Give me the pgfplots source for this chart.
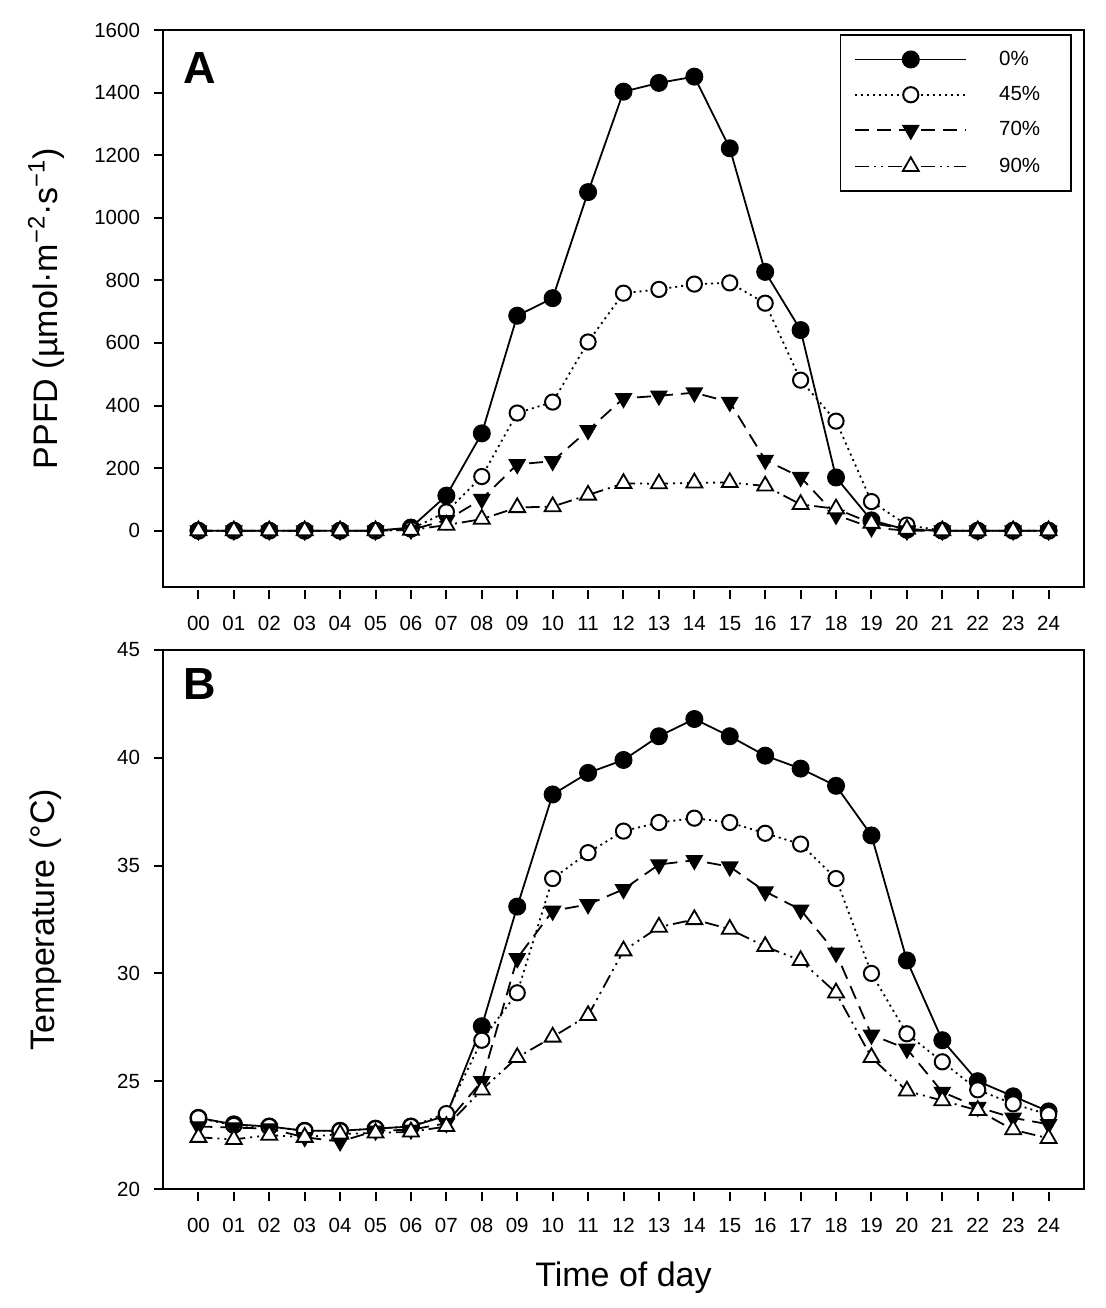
\documentclass[border=0pt]{standalone}
\usepackage{fontspec}
\setmainfont{Liberation Sans}
\usepackage{pgfplots}
\usepackage{pgfplotstable}
\pgfplotsset{compat=1.18}

\pgfplotstableread{
h p0 p45 p70 p90
0 0 0 0 0
1 0 0 0 0
2 0 0 0 0
3 0 0 0 0
4 0 0 0 0
5 0 0 0 0
6 10 5 3 2
7 112 60 33 18
8 311 173 101 37
9 687 376 212 74
10 743 411 222 77
11 1082 603 321 114
12 1403 759 423 151
13 1431 771 431 150
14 1451 788 441 153
15 1222 792 411 154
16 827 727 226 143
17 641 481 171 84
18 170 350 50 70
19 33 93 10 24
20 3 18 0 5
21 0 0 0 0
22 0 0 0 0
23 0 0 0 0
24 0 0 0 0
}\ppfd

\pgfplotstableread{
h t0 t45 t70 t90
0 23.3 23.3 22.9 22.4
1 23.0 22.95 22.85 22.3
2 22.9 22.9 22.8 22.5
3 22.7 22.7 22.4 22.4
4 22.7 22.7 22.2 22.55
5 22.8 22.8 22.7 22.6
6 22.9 22.9 22.75 22.65
7 23.4 23.5 23.05 22.9
8 27.55 26.9 25.0 24.6
9 33.1 29.1 30.7 26.1
10 38.3 34.4 32.9 27.05
11 39.3 35.6 33.2 28.05
12 39.9 36.6 33.9 31.05
13 41.0 37.0 35.05 32.15
14 41.8 37.2 35.25 32.5
15 41.0 37.0 34.95 32.05
16 40.1 36.5 33.8 31.25
17 39.5 36.0 32.95 30.6
18 38.7 34.4 30.95 29.1
19 36.4 30.0 27.15 26.1
20 30.6 27.2 26.5 24.55
21 26.9 25.9 24.5 24.1
22 25.0 24.6 23.8 23.65
23 24.3 23.95 23.3 22.75
24 23.6 23.45 23.0 22.35
}\temp

\pgfplotsset{
  common/.style={
    scale only axis, width=460.5pt,
    xmin=-1, xmax=25, xtick={0,...,24},
    xticklabels={00,01,02,03,04,05,06,07,08,09,10,11,12,13,14,15,16,17,18,19,20,21,22,23,24},
    tick align=outside, xtick pos=bottom, ytick pos=left,
    major tick length=4.5pt,
    every tick/.style={black, line width=1pt},
    xtick style={yshift=-1.5pt},
    axis line style={line width=1.2pt},
    ticklabel style={font=\fontsize{10.25}{12}\selectfont},
    xticklabel style={yshift=-6.5pt},
    yticklabel style={xshift=-3.5pt},
    /pgf/number format/assume math mode=true,
    /pgf/number format/1000 sep={},
    ylabel style={font=\fontsize{17}{20}\selectfont, at={(axis description cs:-0.127,0.5)}, anchor=center},
    xlabel style={font=\fontsize{17}{20}\selectfont, at={(axis description cs:0.5,-0.1651)}, anchor=center},
  },
  s0/.style={black, solid, line width=0.9pt, mark=*, mark size=4.2pt, mark options={fill=black, solid, line width=0.6pt}},
  s45/.style={black, dash pattern=on 1pt off 2pt, line width=0.9pt, mark=*, mark size=3.8pt, mark options={fill=white, solid, line width=1pt}},
  s70/.style={black, dash pattern=on 7pt off 4pt, line width=0.9pt, mark=triangle*, mark size=4.6pt, mark options={rotate=180, fill=black, solid, line width=0.6pt}},
  s90/.style={black, dash pattern=on 7pt off 2.5pt on 1pt off 2.5pt on 1pt off 2.5pt, line width=0.9pt, mark=triangle*, mark size=4.6pt, mark options={fill=white, solid, line width=0.9pt}},
}

\begin{document}
\begin{tikzpicture}
\useasboundingbox (-81.5pt,15pt) rectangle (471pt,-639pt);
\begin{axis}[common, at={(0pt,0pt)}, anchor=north west, height=278.5pt,
  ymin=-180, ymax=1600, ytick={0,200,...,1600},
  ylabel={PPFD (µmol·m\textsuperscript{−2}·s\textsuperscript{−1})},
  legend cell align=left,
  legend style={at={(1,1)}, anchor=north east, xshift=-6pt, yshift=-2pt,
    draw=black, line width=0.8pt, font=\fontsize{10.25}{12}\selectfont,
    inner xsep=7pt, inner ysep=8pt, row sep=9pt, nodes={inner sep=0pt}},
  legend image code/.code={\draw[mark repeat=2,mark phase=2] plot coordinates {(0pt,0pt) (27.75pt,0pt) (55.5pt,0pt)};},
]
\addplot[s0] table[x=h,y=p0] {\ppfd};
\addlegendentry{\hspace{16pt}\makebox[29pt][l]{0\%}}
\addplot[s45] table[x=h,y=p45] {\ppfd};
\addlegendentry{\hspace{16pt}\makebox[29pt][l]{45\%}}
\addplot[s70] table[x=h,y=p70] {\ppfd};
\addlegendentry{\hspace{16pt}\makebox[29pt][l]{70\%}}
\addplot[s90] table[x=h,y=p90] {\ppfd};
\addlegendentry{\hspace{16pt}\makebox[29pt][l]{90\%}}
\node[anchor=north west, inner sep=0pt, font=\bfseries\fontsize{22.5}{22.5}\selectfont] at (axis description cs:0.0217,0.9605) {A};
\end{axis}
\begin{axis}[common, at={(0pt,-310pt)}, anchor=north west, height=269.5pt,
  ymin=20, ymax=45, ytick={20,25,...,45},
  ylabel={Temperature (°C)}, xlabel={Time of day},
]
\addplot[s0] table[x=h,y=t0] {\temp};
\addplot[s45] table[x=h,y=t45] {\temp};
\addplot[s70] table[x=h,y=t70] {\temp};
\addplot[s90] table[x=h,y=t90] {\temp};
\node[anchor=north west, inner sep=0pt, font=\bfseries\fontsize{22.5}{22.5}\selectfont] at (axis description cs:0.0217,0.9666) {B};
\end{axis}
\end{tikzpicture}
\end{document}
